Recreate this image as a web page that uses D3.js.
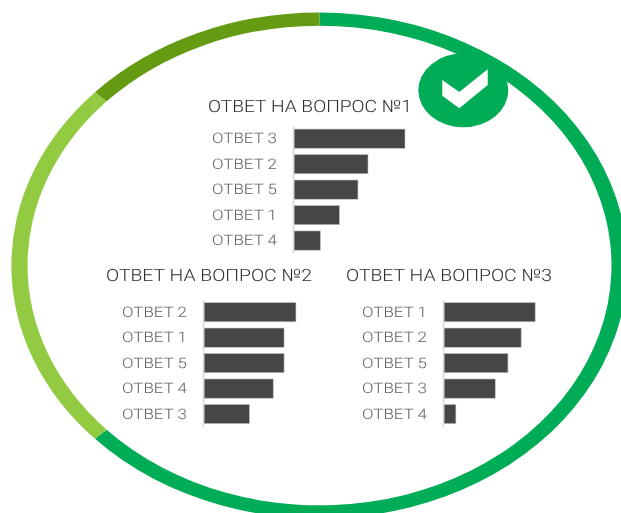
<!DOCTYPE html>
<html><head><meta charset="utf-8">
<script src="https://cdn.jsdelivr.net/npm/d3@7"></script>
<style>
html,body{margin:0;padding:0;background:#fff;overflow:hidden}
svg{display:block;will-change:transform}
text{font-family:Roboto,sans-serif;text-rendering:geometricPrecision}
</style></head><body>
<svg id="c" width="621" height="513"></svg>
<script>
const ringShares = [63, 24, 13];
const ringColors = ["#00ac56", "#92cb41", "#659b12"];
const titles = ["ОТВЕТ НА ВОПРОС №1", "ОТВЕТ НА ВОПРОС №2", "ОТВЕТ НА ВОПРОС №3"];
const q1Answers = ["ОТВЕТ 3", "ОТВЕТ 2", "ОТВЕТ 5", "ОТВЕТ 1", "ОТВЕТ 4"];
const q1Values = [42, 28, 24.2, 17.2, 10];
const q2Answers = ["ОТВЕТ 2", "ОТВЕТ 1", "ОТВЕТ 5", "ОТВЕТ 4", "ОТВЕТ 3"];
const q2Values = [34.8, 30.3, 30.3, 26.2, 17.2];
const q3Answers = ["ОТВЕТ 1", "ОТВЕТ 2", "ОТВЕТ 5", "ОТВЕТ 3", "ОТВЕТ 4"];
const q3Values = [34.5, 29.2, 24.2, 19.4, 4.5];

const svg = d3.select("#c");

// Ring: a donut drawn on a unit radius and stretched into the ellipse
const pie = d3.pie().sort(null).value(d => d);
const ring = svg.append("g").attr("transform", "translate(319.5,265.5) scale(308,253)");
const arc = d3.arc().innerRadius(0.948).outerRadius(1);
ring.selectAll("path").data(pie(ringShares)).join("path")
  .attr("d", arc).attr("fill", (d, i) => ringColors[i]);

// Badge
svg.append("ellipse").attr("cx", 463.3).attr("cy", 90.3).attr("rx", 45).attr("ry", 37).attr("fill", "#00ac56");
svg.append("polygon").attr("fill", "#fff")
  .attr("points", "442.3,80 459.3,92 487.7,69.3 487.7,85 459.3,108.3 442.3,95.7");

// Shared value scale
const x = d3.scaleLinear().domain([0, 42]).range([0, 111]);

function chart(title, answers, values, o) {
  const g = svg.append("g");
  const y = d3.scaleBand().domain(answers)
    .range([o.y0, o.y0 + 25.45 * answers.length]).paddingInner(0.245).paddingOuter(0.12);
  g.append("text").text(title)
    .attr("x", o.tx).attr("y", o.ty).attr("font-size", 17).attr("font-weight", 300)
    .attr("fill", "#2e2e2e").attr("textLength", o.tw).attr("lengthAdjust", "spacingAndGlyphs");
  g.selectAll("rect").data(values).join("rect")
    .attr("x", o.x0 + 1).attr("y", (d, i) => y(answers[i]))
    .attr("width", d => x(d)).attr("height", y.bandwidth())
    .attr("fill", "#464646").attr("stroke", "#c4c4c4").attr("stroke-width", 0.6);
  const ax = g.append("g").attr("transform", `translate(${o.x0},0)`)
    .call(d3.axisLeft(y).tickSize(0));
  ax.select(".domain").attr("stroke", "#d9d9d9").attr("stroke-width", 1.6);
  ax.selectAll("text")
    .attr("x", o.lx - o.x0).attr("text-anchor", "start")
    .attr("font-size", 14.5).attr("font-family", "Roboto,sans-serif").attr("font-weight", 300)
    .attr("fill", "#5e5e5e").attr("textLength", 65).attr("lengthAdjust", "spacingAndGlyphs");
}

chart(titles[0], q1Answers, q1Values, {x0: 293, lx: 212, y0: 126, tx: 208, ty: 112, tw: 204});
chart(titles[1], q2Answers, q2Values, {x0: 203, lx: 122, y0: 299.5, tx: 106, ty: 281, tw: 206});
chart(titles[2], q3Answers, q3Values, {x0: 443, lx: 362, y0: 299.5, tx: 346, ty: 281, tw: 206});
</script>
</body></html>
